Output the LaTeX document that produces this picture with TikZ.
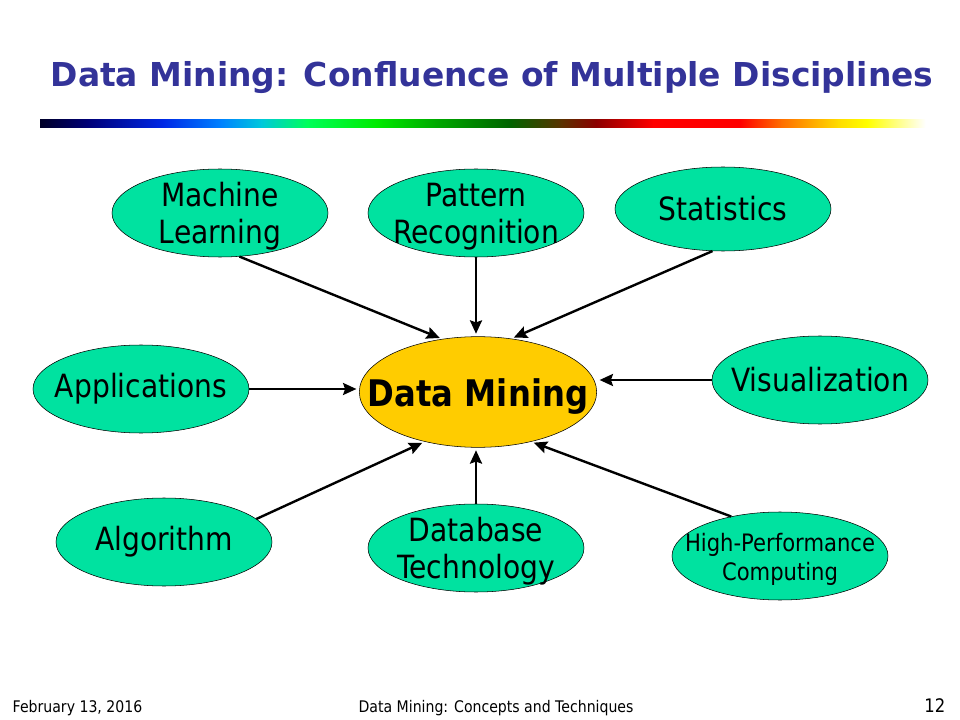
\documentclass[tikz,border=0pt]{standalone}
\usepackage{fontspec}
\setmainfont{DejaVu Sans}[FakeStretch=0.88]
\newfontfamily\titlefont{DejaVu Sans}
\usepackage{tikz}
\usetikzlibrary{arrows.meta, shapes.geometric}
\definecolor{dmGreen}{RGB}{0,226,160}
\definecolor{dmYellow}{RGB}{255,204,0}
\definecolor{dmTitle}{RGB}{51,51,153}
\definecolor{barA}{RGB}{0,0,40}
\definecolor{barB}{RGB}{0,0,120}
\definecolor{barC}{RGB}{0,40,230}
\definecolor{barD}{RGB}{0,130,255}
\definecolor{barE}{RGB}{0,200,220}
\definecolor{barF}{RGB}{0,255,90}
\definecolor{barG}{RGB}{0,235,0}
\definecolor{barH}{RGB}{0,170,0}
\definecolor{barI}{RGB}{0,100,0}
\definecolor{barJ}{RGB}{90,50,0}
\definecolor{barK}{RGB}{140,0,0}
\definecolor{barL}{RGB}{255,0,0}
\definecolor{barM}{RGB}{255,0,0}
\definecolor{barN}{RGB}{255,110,0}
\definecolor{barO}{RGB}{255,220,0}
\definecolor{barP}{RGB}{255,255,0}
\definecolor{barQ}{RGB}{255,255,255}
\newcommand{\figArrow}{{Stealth[length=10pt, width=9pt, inset=1.5pt]}}

\begin{document}
\begin{tikzpicture}[x=0.75pt, y=-0.75pt,
	topic/.style={ellipse, draw=black, thin, fill=dmGreen, minimum width=162pt, minimum height=66pt, inner sep=0pt},
	every label/.style={align=center, font=\fontsize{24}{28}\selectfont},
	twolines/.style={yshift=-2.5pt},
	link/.style={line width=1.8pt, shorten >=2pt}]
	\useasboundingbox (0,0) rectangle (960,720);

	% title and colour bar
	\node[font=\titlefont\bfseries\fontsize{24.7}{30}\selectfont, text=dmTitle, anchor=base] (title) at (492,87) {Data Mining: Confluence of Multiple Disciplines};
	\foreach \xa/\xb/\ca/\cb in {40/88/barA/barB, 88/163/barB/barC, 163/221/barC/barD, 221/261/barD/barE, 261/307/barE/barF, 307/376/barF/barG, 376/435/barG/barH, 435/509/barH/barI, 509/561/barI/barJ, 561/596/barJ/barK, 596/653/barK/barL, 653/740/barL/barM, 740/781/barM/barN, 781/838/barN/barO, 838/867/barO/barP, 867/925/barP/barQ}
		\shade[left color=\ca, right color=\cb] (\xa,120) rectangle (\xb+0.5,128);

	% disciplines
	\node[ellipse, draw=black, thin, fill=dmYellow, minimum width=178pt, minimum height=83pt, inner sep=0pt,
		label={[yshift=-3.5pt, font=\bfseries\fontsize{27.5}{32}\selectfont]center:Data Mining}] (dm) at (478,392) {};
	\node[topic, label={[twolines]center:Machine\\Learning}] (ml) at (220,213) {};
	\node[topic, label={[twolines]center:Pattern\\Recognition}] (pr) at (476,213) {};
	\node[topic, minimum height=63pt, label=center:Statistics] (stat) at (723,209) {};
	\node[topic, label=center:Applications] (app) at (141,389) {};
	\node[topic, label=center:Visualization] (vis) at (820,380) {};
	\node[topic, label=center:Algorithm] (alg) at (164,542) {};
	\node[topic, label={[twolines]center:Database\\Technology}] (db) at (476,548) {};
	\node[topic, label={[twolines, font=\fontsize{18}{21.75}\selectfont]center:High-Performance\\Computing}] (hpc) at (780,556) {};

	\draw[link, -\figArrow] (ml.-66) -- (dm.124);
	\draw[link, -\figArrow] (pr.south) -- (pr.south |- dm.north);
	\draw[link, -\figArrow] (stat.-104) -- (dm.58);
	\draw[link, -\figArrow] (app.east) -- (app.east -| dm.west);
	\draw[link, -\figArrow] (vis.west) -- (vis.west -| dm.east);
	\draw[link, -\figArrow] (alg.14) -- (dm.-137);
	\draw[link, -\figArrow] (db.north) -- (db.north |- dm.south);
	\draw[link, -\figArrow] (hpc.141) -- (dm.-43);

	% footer
	\node[font=\fontsize{12}{14}\selectfont, anchor=base west] (date) at (8,712) {February 13, 2016};
	\node[font=\fontsize{12}{14}\selectfont, anchor=base] (book) at (496,712) {Data Mining: Concepts and Techniques};
	\node[font=\fontsize{14}{16}\selectfont, anchor=base east] (page) at (950,712) {12};
\end{tikzpicture}
\end{document}
